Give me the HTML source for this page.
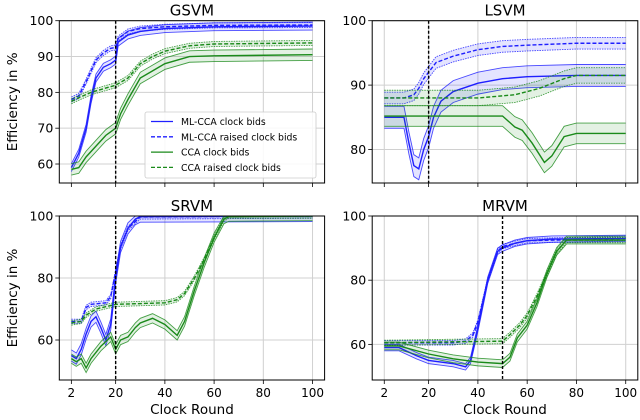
<!DOCTYPE html>
<html><head><meta charset="utf-8"><style>
body{margin:0;background:#fff}
svg{display:block;font-family:"DejaVu Sans","Liberation Sans",sans-serif}
</style></head><body>
<svg id="c" width="640" height="420" viewBox="0 0 640 420"></svg>
<script>
// ---- data ----
const seriesNames = ["ML-CCA clock bids","ML-CCA raised clock bids","CCA clock bids","CCA raised clock bids"];
const panelTitles = ["GSVM","LSVM","SRVM","MRVM"];
const bidRounds = [20,20,20,50];
const xTicks = [2,20,40,60,80,100];
const yTicksTop0 = [60,70,80,90,100];
const yTicksTop1 = [80,90,100];
const yTicksBot = [60,80,100];
// GSVM
const g_mlc_x=[2,5,8,10,12,15,18,20,21,25,30,40,60,100], g_mlc_y=[59,63,70,78,84,87,88,89,94,96,97,97.8,98.3,98.5], g_mlc_b=1.1;
const g_mlr_x=[2,5,8,10,12,15,18,20,21,25,30,40,60,100], g_mlr_y=[78,79,83,86,89,91,92.3,92.5,95,97,97.8,98.3,98.7,98.8], g_mlr_b=0.7;
const g_cc_x=[2,5,8,12,16,20,22,25,30,35,40,50,60,100], g_cc_y=[58.5,59,62,65,68,70,74,78,84,86,88,90,90.2,90.5], g_cc_b=1.6;
const g_cr_x=[2,5,10,15,20,25,30,35,40,50,60,100], g_cr_y=[77.5,78.5,80,81,82,84,88,90,91.5,93,93.5,93.8], g_cr_b=0.7;
// LSVM
const l_mlc_x=[2,10,12,14,16,18,20,22,25,30,40,50,60,80,100], l_mlc_y=[85,85,81,77.5,77,80,82,85,87.5,89,90.3,91,91.3,91.5,91.5], l_mlc_b=1.7;
const l_mlr_x=[2,10,14,16,18,20,23,30,40,50,60,80,100], l_mlr_y=[88,88,88.5,89.5,91,92,93.5,94.5,95.5,96,96.2,96.5,96.5], l_mlr_b=0.9;
const l_cc_x=[2,50,55,58,62,67,70,75,80,100], l_cc_y=[85.2,85.2,83.5,83,81,78,79,82,82.5,82.5], l_cc_b=1.6;
const l_cr_x=[2,40,55,65,75,80,100], l_cr_y=[88,88,88.5,89.5,91,91.5,91.5], l_cr_b=1.2;
// SRVM
const s_mlc_x=[2,4,6,8,10,12,14,16,18,20,22,25,28,30,100], s_mlc_y=[55,54,57,62,66,67.5,64,60,65,80,90,96,99,99.8,100], s_mlc_b=1.8;
const s_mlr_x=[2,6,8,10,16,18,20,22,25,30,100], s_mlr_y=[66,66,70.5,71.5,72,74,82,90,96,99.7,100], s_mlr_b=0.7;
const s_cc_x=[2,4,6,8,10,14,18,20,22,25,28,30,35,40,45,48,52,56,60,64,66,100], s_cc_y=[54,53,54,51,54,58,61,57,60,61,64,65.5,67,65,61.5,66,76,85,93,99,99.8,100], s_cc_b=1.5;
const s_cr_x=[2,6,8,12,20,40,45,48,52,56,60,64,66,100], s_cr_y=[65.5,66,68,70,71.5,72,73,75,80,86,93,99,100,100], s_cr_b=0.7;
// MRVM
const m_mlc_x=[2,8,15,20,25,30,35,37,40,44,48,50,55,60,70,100], m_mlc_y=[59,59,56.5,55,54.5,54,53,55,65,80,89,90,91.5,92.3,92.8,93], m_mlc_b=1;
const m_mlr_x=[2,30,35,38,40,44,48,50,55,60,100], m_mlr_y=[60.5,60.5,61,63,67,80,89,90.5,91.5,92.3,93], m_mlr_b=0.7;
const m_cc_x=[2,8,20,30,40,50,53,56,60,64,68,72,76,100], m_cc_y=[59.5,59.5,57,55.5,54.5,54,56,62,66,73,82,89,92.5,92.5], m_cc_b=1.2;
const m_cr_x=[2,50,53,57,60,64,68,72,76,100], m_cr_y=[60.5,61,63,66,69,75,82,89,92.5,92.5], m_cr_b=0.8;

const panels=[
 {x0:59.3,x1:324.6,yt:20.7,yb:183,ymin:54.7,ymax:100,ticks:yTicksTop0,xl:false,
  s:[[g_mlc_x,g_mlc_y,g_mlc_b],[g_mlr_x,g_mlr_y,g_mlr_b],[g_cc_x,g_cc_y,g_cc_b],[g_cr_x,g_cr_y,g_cr_b]]},
 {x0:372.2,x1:637.8,yt:20.7,yb:183,ymin:74.8,ymax:100,ticks:yTicksTop1,xl:false,
  s:[[l_mlc_x,l_mlc_y,l_mlc_b],[l_mlr_x,l_mlr_y,l_mlr_b],[l_cc_x,l_cc_y,l_cc_b],[l_cr_x,l_cr_y,l_cr_b]]},
 {x0:59.3,x1:324.6,yt:216,yb:380,ymin:47.1,ymax:100,ticks:yTicksBot,xl:true,
  s:[[s_mlc_x,s_mlc_y,s_mlc_b],[s_mlr_x,s_mlr_y,s_mlr_b],[s_cc_x,s_cc_y,s_cc_b],[s_cr_x,s_cr_y,s_cr_b]]},
 {x0:372.2,x1:637.8,yt:216,yb:380,ymin:48.9,ymax:100,ticks:yTicksBot,xl:true,
  s:[[m_mlc_x,m_mlc_y,m_mlc_b],[m_mlr_x,m_mlr_y,m_mlr_b],[m_cc_x,m_cc_y,m_cc_b],[m_cr_x,m_cr_y,m_cr_b]]}
];
const colors=["#1f1fff","#1f1fff","#1a8a1a","#1a8a1a"];
const NS="http://www.w3.org/2000/svg";
const svg=document.getElementById('c');
function el(t,a,p){const e=document.createElementNS(NS,t);for(const k in a)e.setAttribute(k,a[k]);(p||svg).appendChild(e);return e;}

panels.forEach((P,pi)=>{
  const g=el('g',{});
  
  
  const sx=v=>P.x0+(v+2.9)/107.8*(P.x1-P.x0);
  const sy=v=>P.yb-(v-P.ymin)/(P.ymax-P.ymin)*(P.yb-P.yt);
  xTicks.forEach(t=>{
    const l=el('line',{x1:sx(t),x2:sx(t),y1:P.yt,y2:P.yb,stroke:'#d0d0d0','stroke-width':1},g);
    
    
    el('line',{x1:sx(t),x2:sx(t),y1:P.yb,y2:P.yb+4,stroke:'#000','stroke-width':0.8},g);
    if(P.xl){const tx=el('text',{x:sx(t),y:P.yb+17,'text-anchor':'middle','font-size':12},g);tx.textContent=t;
      
      }
  });
  P.ticks.forEach(t=>{
    el('line',{x1:P.x0,x2:P.x1,y1:sy(t),y2:sy(t),stroke:'#d0d0d0','stroke-width':1},g);
    el('line',{x1:P.x0-4,x2:P.x0,y1:sy(t),y2:sy(t),stroke:'#000','stroke-width':0.8},g);
    const tx=el('text',{x:P.x0-6,y:sy(t)+4.5,'text-anchor':'end','font-size':12.5},g);tx.textContent=t;
    
    
  });
  const clip='clip'+pi;
  const cp=el('clipPath',{id:clip},g);el('rect',{x:P.x0,y:P.yt,width:P.x1-P.x0,height:P.yb-P.yt},cp);
  const dg=el('g',{'clip-path':'url(#'+clip+')'},g);
  P.s.forEach((S,si)=>{
    const [xs,ys,b]=S;const c=colors[si];const dashed=si%2==1;
    const up=xs.map((x,i)=>[sx(x),sy(Math.min(100,ys[i]+b))]);
    const lo=xs.map((x,i)=>[sx(x),sy(ys[i]-b)]);
    const band=el('polygon',{points:up.concat(lo.slice().reverse()).map(p=>p.join(',')).join(' '),fill:c,'fill-opacity':0.12},dg);
    
    
    [up,lo].forEach(arr=>{el('polyline',{points:arr.map(p=>p.join(',')).join(' '),fill:'none',stroke:c,'stroke-width':0.9,'stroke-opacity':0.8,'stroke-dasharray':dashed?'1.5,1':'none'},dg);});
    const ln=el('polyline',{points:xs.map((x,i)=>sx(x)+','+sy(ys[i])).join(' '),fill:'none',stroke:c,'stroke-width':1.4,'stroke-dasharray':dashed?'4,2':'none'},dg);
    
    
  });
  const vl=el('line',{x1:sx(bidRounds[pi]),x2:sx(bidRounds[pi]),y1:P.yt,y2:P.yb,stroke:'#000','stroke-width':1.4,'stroke-dasharray':'3,2'},g);
  
  
  el('rect',{x:P.x0,y:P.yt,width:P.x1-P.x0,height:P.yb-P.yt,fill:'none',stroke:'#000','stroke-width':1},g);
  const tt=el('text',{x:(P.x0+P.x1)/2,y:P.yt-5,'text-anchor':'middle','font-size':15},g);tt.textContent=panelTitles[pi];
  
  
  if(P.xl){const xt=el('text',{x:(P.x0+P.x1)/2,y:414,'text-anchor':'middle','font-size':13.5},g);xt.textContent='Clock Round';
    
    }
  if(pi%2==0){const yt=el('text',{x:0,y:0,'text-anchor':'middle','font-size':13.5,transform:'translate(17,'+((P.yt+P.yb)/2)+') rotate(-90)'},g);yt.textContent='Efficiency in %';
    
    }
});
// legend
const lg=el('g',{});


el('rect',{x:145,y:112,width:171,height:66,rx:2,fill:'#fff','fill-opacity':0.85,stroke:'#ccc','stroke-width':0.8},lg);
seriesNames.forEach((n,i)=>{
  const y=121.5+i*15.3;
  el('line',{x1:151,x2:173,y1:y,y2:y,stroke:colors[i],'stroke-width':1.3,'stroke-dasharray':i%2?'4,2':'none'},lg);
  const t=el('text',{x:181,y:y+3.5,'font-size':9.3},lg);t.textContent=n;
  
  
});
</script>
</body></html>
